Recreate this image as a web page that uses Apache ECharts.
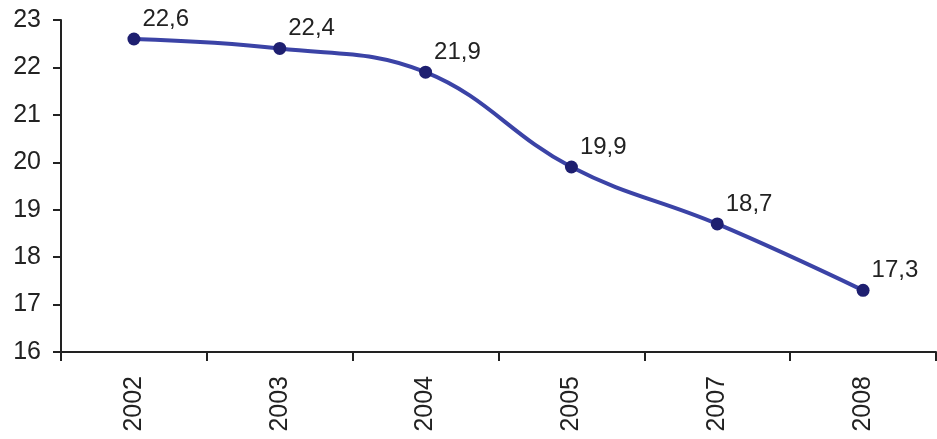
<!DOCTYPE html>
<html><head><meta charset="utf-8">
<script src="https://cdn.jsdelivr.net/npm/echarts@6/dist/echarts.min.js"></script>
<style>html,body{margin:0;padding:0;background:#fff}#c{width:937px;height:439px}</style>
</head><body><div id="c"></div>
<script>
var categories = ['2002','2003','2004','2005','2007','2008'];
var values = [22.6, 22.4, 21.9, 19.9, 18.7, 17.3];
var yMin = 16, yMax = 23, yInterval = 1;

var chart = echarts.init(document.getElementById('c'), null, {renderer:'canvas'});
chart.setOption({
  animation:false,
  grid:{left:61, top:20, right:1, bottom:87, containLabel:false},
  xAxis:{
    type:'category', data:categories, boundaryGap:true,
    axisLine:{lineStyle:{color:'#222', width:2}},
    axisTick:{show:true, length:9, lineStyle:{color:'#222', width:2}, alignWithLabel:false},
    axisLabel:{rotate:90, margin:24, color:'#222', fontSize:25, fontFamily:'Liberation Sans, Arial, sans-serif'},
    splitLine:{show:false}
  },
  yAxis:{
    type:'value', min:yMin, max:yMax, interval:yInterval,
    axisLine:{show:true, lineStyle:{color:'#222', width:2}},
    axisTick:{show:true, length:8, lineStyle:{color:'#222', width:2}},
    axisLabel:{margin:20, color:'#222', fontSize:25, fontFamily:'Liberation Sans, Arial, sans-serif'},
    splitLine:{show:false}
  },
  series:[{
    type:'line', data:values, smooth:0.4,
    symbol:'circle', symbolSize:13,
    lineStyle:{color:'#3b43a6', width:4},
    itemStyle:{color:'#1e1f70'},
    label:{show:true, position:'right', distance:2, offset:[0,-20],
      formatter:function(p){return String(p.value).replace('.',',');},
      color:'#222', fontSize:24, fontFamily:'Liberation Sans, Arial, sans-serif'}
  }]
});
</script></body></html>
